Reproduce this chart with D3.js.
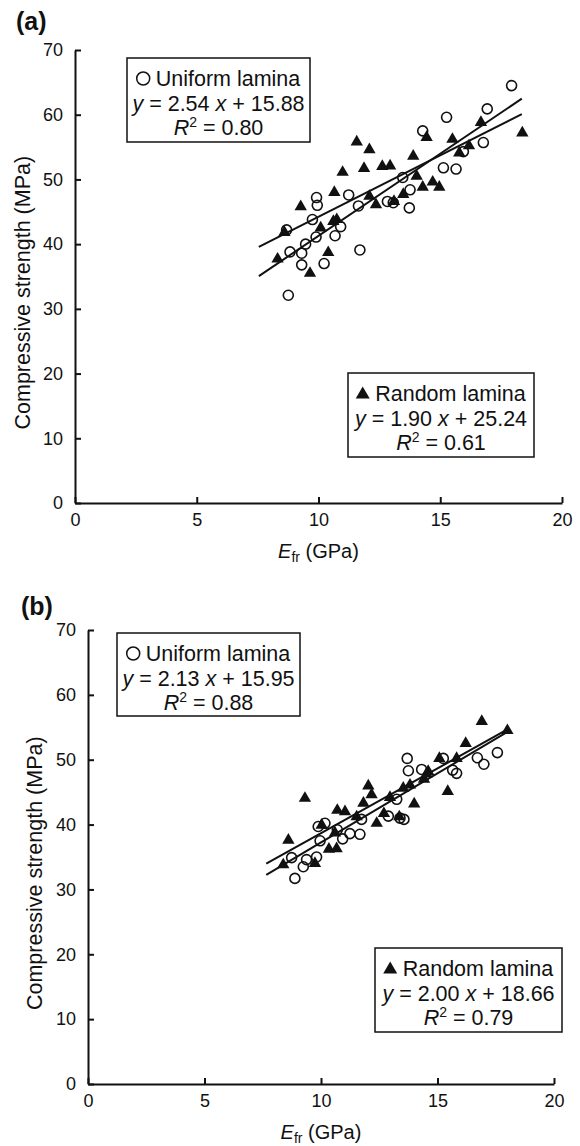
<!DOCTYPE html>
<html>
<head>
<meta charset="utf-8">
<script src="https://cdn.jsdelivr.net/npm/d3@7"></script>
<style>
  body { margin: 0; background: #fff; }
  svg { display: block; font-family: Arial, "Liberation Sans", sans-serif; }
</style>
</head>
<body>
<svg id="chart" width="580" height="1146"></svg>
<script>
// values: [Efr (GPa), compressive strength (MPa)]
const uniformA = [[17.93,64.5],[16.93,60.9],[15.26,59.6],[14.28,57.5],[16.77,55.7],[15.95,54.3],
  [15.13,51.8],[15.65,51.6],[13.46,50.3],[13.76,48.4],[11.24,47.6],[9.92,47.2],[9.95,46.0],
  [11.64,45.9],[12.83,46.6],[13.07,46.4],[13.73,45.6],[9.75,43.8],[8.69,42.2],[10.91,42.7],
  [10.68,41.3],[9.90,41.1],[9.47,40.0],[8.83,38.8],[9.31,38.6],[11.70,39.1],[9.31,36.8],
  [10.23,37.0],[8.76,32.1]];
const randomA = [[11.57,55.8],[12.09,54.6],[10.99,51.1],[11.87,51.7],[12.62,52.0],[12.94,52.1],
  [13.89,53.6],[14.44,56.5],[15.50,56.2],[16.67,58.8],[18.37,57.2],[16.18,55.2],[15.78,54.1],
  [14.03,50.5],[14.69,49.6],[14.96,48.8],[14.28,48.8],[13.48,47.7],[13.10,46.6],[12.09,47.4],
  [12.36,46.1],[10.65,48.0],[9.27,45.8],[10.75,43.8],[10.61,43.5],[10.09,42.5],[8.60,41.8],
  [8.32,37.7],[10.40,38.7],[9.65,35.5]];
const uniformB = [[17.57,51.1],[16.71,50.3],[16.99,49.3],[15.25,50.2],[15.65,48.4],[15.82,47.9],
  [13.70,50.2],[13.75,48.3],[14.32,48.5],[13.25,43.9],[12.89,41.3],[13.56,40.8],[11.74,40.8],
  [10.17,40.2],[9.88,39.7],[10.70,39.2],[11.24,38.6],[11.67,38.5],[10.93,37.8],[9.96,37.5],
  [8.74,34.9],[9.38,34.6],[9.81,35.0],[9.24,33.5],[8.88,31.7],[13.39,41.0]];
const randomB = [[16.90,55.9],[18.00,54.5],[16.21,52.5],[15.08,50.2],[15.82,50.2],[14.60,48.2],
  [14.42,47.0],[14.53,47.8],[13.82,46.1],[15.44,45.1],[14.00,43.2],[9.31,44.05],[12.03,45.95],
  [12.17,44.6],[11.82,43.3],[12.96,44.2],[10.70,42.2],[11.03,42.0],[11.53,41.2],[12.70,41.7],
  [13.36,41.2],[12.39,40.2],[10.03,39.9],[10.60,38.7],[8.60,37.6],[10.34,36.2],[10.67,36.3],
  [9.74,34.0],[8.38,33.8],[13.53,45.6]];

const seriesNames = ["Uniform lamina", "Random lamina"];
const slopesA = [2.54, 1.90], interceptsA = [15.88, 25.24], r2A = ["0.80", "0.61"];
const slopesB = [2.13, 2.00], interceptsB = [15.95, 18.66], r2B = ["0.88", "0.79"];
const fitRangeA = [7.55, 18.35], fitRangeB = [7.65, 18.0];

const xTicks = [0, 5, 10, 15, 20];
const yTicks = [0, 10, 20, 30, 40, 50, 60, 70];

const svg = d3.select("#chart");

const drawPanel = (p) => {
  const g = svg.append("g");
  const xScale = d3.scaleLinear().domain([0, 20]).range(p.xRange);
  const yScale = d3.scaleLinear().domain([0, 70]).range(p.yRange);

  const xAxis = g.append("g")
    .attr("transform", "translate(0," + p.yRange[0] + ")")
    .call(d3.axisBottom(xScale).tickValues(xTicks).tickSizeInner(-6).tickSizeOuter(0).tickPadding(10));
  const yAxis = g.append("g")
    .attr("transform", "translate(" + p.xRange[0] + ",0)")
    .call(d3.axisLeft(yScale).tickValues(yTicks).tickSizeInner(-6).tickSizeOuter(0).tickPadding(12));
  [xAxis, yAxis].forEach((a) => {
    a.selectAll("path, line").attr("stroke", "#111").attr("stroke-width", 2);
    a.selectAll("text").attr("font-size", 18).attr("fill", "#111").attr("font-family", null);
  });

  // regression lines
  const fits = [0, 1].map((i) => [p.fitRange[0], p.fitRange[1]].map((x) => [x, p.slopes[i] * x + p.intercepts[i]]));
  const line = d3.line().x((d) => xScale(d[0])).y((d) => yScale(d[1]));
  g.selectAll(".fit").data(fits).enter().append("path")
    .attr("d", line).attr("fill", "none").attr("stroke", "#111").attr("stroke-width", 2);

  g.selectAll(".tri").data(p.random).enter().append("path")
    .attr("transform", (d) => "translate(" + xScale(d[0]) + "," + yScale(d[1]) + ")")
    .attr("d", d3.symbol().type(d3.symbolTriangle).size(66))
    .attr("fill", "#111");
  g.selectAll(".circ").data(p.uniform).enter().append("circle")
    .attr("cx", (d) => xScale(d[0])).attr("cy", (d) => yScale(d[1]))
    .attr("r", 5).attr("fill", "none").attr("stroke", "#111").attr("stroke-width", 1.6);

  // legend boxes
  p.boxes.forEach((b, i) => {
    const lg = g.append("g").attr("transform", "translate(" + b[0] + "," + b[1] + ")");
    lg.append("rect").attr("width", b[2]).attr("height", b[3])
      .attr("fill", "#fff").attr("stroke", "#111").attr("stroke-width", 1.5);
    const cx = b[2] / 2;
    const t1 = lg.append("text").attr("y", 28).attr("font-size", 21.5).attr("fill", "#111")
      .text(seriesNames[i]);
    const w = t1.node().getComputedTextLength();
    const sym = 19, start = cx - (w + sym) / 2;
    t1.attr("x", start + sym);
    if (i === 0) {
      lg.append("circle").attr("cx", start + 6.5).attr("cy", 20.5).attr("r", 6.5)
        .attr("fill", "none").attr("stroke", "#111").attr("stroke-width", 1.5);
    } else {
      lg.append("path").attr("transform", "translate(" + (start + 6.5) + ",21.5)")
        .attr("d", d3.symbol().type(d3.symbolTriangle).size(85)).attr("fill", "#111");
    }
    const t2 = lg.append("text").attr("x", cx).attr("y", 52.5).attr("font-size", 21.5)
      .attr("text-anchor", "middle").attr("fill", "#111");
    t2.append("tspan").attr("font-style", "italic").text("y");
    t2.append("tspan").text(" = " + p.slopes[i].toFixed(2) + " ");
    t2.append("tspan").attr("font-style", "italic").text("x");
    t2.append("tspan").text(" + " + p.intercepts[i].toFixed(2));
    const t3 = lg.append("text").attr("x", cx).attr("y", 76.5).attr("font-size", 21.5)
      .attr("text-anchor", "middle").attr("fill", "#111");
    t3.append("tspan").attr("font-style", "italic").text("R");
    t3.append("tspan").attr("font-size", 14).attr("dy", -8).text("2");
    t3.append("tspan").attr("dy", 8).text(" = " + p.r2[i]);
  });

  // axis titles
  const xt = g.append("text")
    .attr("x", (p.xRange[0] + p.xRange[1]) / 2).attr("y", p.yRange[0] + 55)
    .attr("text-anchor", "middle").attr("font-size", 20).attr("fill", "#111");
  xt.append("tspan").attr("font-style", "italic").text("E");
  xt.append("tspan").attr("font-size", 14).attr("dy", 4).text("fr");
  xt.append("tspan").attr("dy", -4).text(" (GPa)");

  g.append("text")
    .attr("transform", "translate(" + p.yTitleX + "," + yScale(32.5) + ") rotate(-90)")
    .attr("text-anchor", "middle").attr("dy", "0.35em")
    .attr("font-size", 21.5).attr("fill", "#111")
    .text("Compressive strength (MPa)");

  g.append("text").attr("x", p.label[0]).attr("y", p.label[1])
    .attr("font-size", 25).attr("font-weight", "bold").attr("fill", "#111")
    .text(p.name);
};

drawPanel({
  name: "(a)", label: [16, 30],
  xRange: [75, 562], yRange: [503, 50],
  uniform: uniformA, random: randomA,
  slopes: slopesA, intercepts: interceptsA, r2: r2A, fitRange: fitRangeA,
  boxes: [[127, 58, 183, 84], [348, 373, 186, 84]],
  yTitleX: 22
});

drawPanel({
  name: "(b)", label: [21, 615],
  xRange: [88, 554], yRange: [1084, 630],
  uniform: uniformB, random: randomB,
  slopes: slopesB, intercepts: interceptsB, r2: r2B, fitRange: fitRangeB,
  boxes: [[117, 633, 183, 83], [375, 948, 187, 84]],
  yTitleX: 34
});
</script>
</body>
</html>
